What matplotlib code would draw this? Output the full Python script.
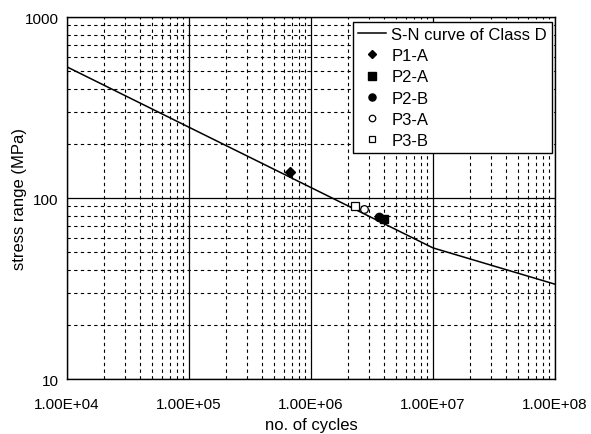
import numpy as np
import matplotlib
matplotlib.use("Agg")
import matplotlib.pyplot as plt
from matplotlib.ticker import FixedLocator, LogLocator, NullFormatter

plt.rcParams['font.family'] = ['Liberation Sans', 'DejaVu Sans']

# S-N curve of Class D
sn_N = [1e4, 1e7, 1e8]
sn_S = [530, 53, 33.4]

p1a_N = [6.7e5]; p1a_S = [139]
p2a_N = [4.0e6]; p2a_S = [77]
p2b_N = [3.6e6]; p2b_S = [78.5]
p3a_N = [2.7e6]; p3a_S = [87]
p3b_N = [2.3e6]; p3b_S = [90]

xticks = [1e4, 1e5, 1e6, 1e7, 1e8]
xticklabels = ["1.00E+04", "1.00E+05", "1.00E+06", "1.00E+07", "1.00E+08"]
yticks = [10, 100, 1000]
yticklabels = ["10", "100", "1000"]

fig = plt.figure(figsize=(5.91, 4.35), dpi=100)
ax = fig.add_axes([67/591, 1-380/435, (555-67)/591, (380-18)/435])
ax.set_xscale('log'); ax.set_yscale('log')
ax.set_xlim(1e4, 1e8); ax.set_ylim(10, 1000)

ax.xaxis.set_major_locator(FixedLocator(xticks))
ax.set_xticklabels(xticklabels)
ax.yaxis.set_major_locator(FixedLocator(yticks))
ax.set_yticklabels(yticklabels)
ax.xaxis.set_minor_locator(LogLocator(base=10, subs=np.arange(2, 10)))
ax.yaxis.set_minor_locator(LogLocator(base=10, subs=np.arange(2, 10)))
ax.xaxis.set_minor_formatter(NullFormatter())
ax.yaxis.set_minor_formatter(NullFormatter())
ax.tick_params(which='both', length=0, labelsize=11, colors='black')
ax.tick_params(axis='x', pad=13)
ax.tick_params(axis='y', pad=6)

ax.grid(which='major', color='black', linestyle='-', linewidth=0.9)
ax.grid(which='minor', color='black', linestyle=(0, (3, 3)), linewidth=0.8)
ax.set_axisbelow(True)
for s in ax.spines.values():
    s.set_linewidth(1.0); s.set_color('black')

ax.plot(sn_N, sn_S, color='black', linewidth=1.1, label='S-N curve of Class D')
ax.plot(p1a_N, p1a_S, linestyle='none', marker='D', ms=5, color='black', label='P1-A')
ax.plot(p2a_N, p2a_S, linestyle='none', marker='s', ms=6, color='black', label='P2-A')
ax.plot(p2b_N, p2b_S, linestyle='none', marker='o', ms=6, color='black', label='P2-B')
ax.plot(p3a_N, p3a_S, linestyle='none', marker='o', ms=5.5, mfc='white', mec='black', mew=0.9, label='P3-A')
ax.plot(p3b_N, p3b_S, linestyle='none', marker='s', ms=5.5, mfc='white', mec='black', mew=0.9, label='P3-B')

leg = ax.legend(loc='upper right', bbox_to_anchor=(1 - 3/488, 1 - 5/362), fontsize=12,
                frameon=True, fancybox=False, framealpha=1, edgecolor='black',
                borderaxespad=0, handlelength=1.7, labelspacing=0.37, borderpad=0.3,
                handletextpad=0.3, markerscale=0.85)
leg.get_frame().set_linewidth(1.0)

ax.set_xlabel('no. of cycles', fontsize=12, labelpad=4)
ax.set_ylabel('stress range (MPa)', fontsize=12, labelpad=-2)

fig.savefig('out.png', dpi=100)
